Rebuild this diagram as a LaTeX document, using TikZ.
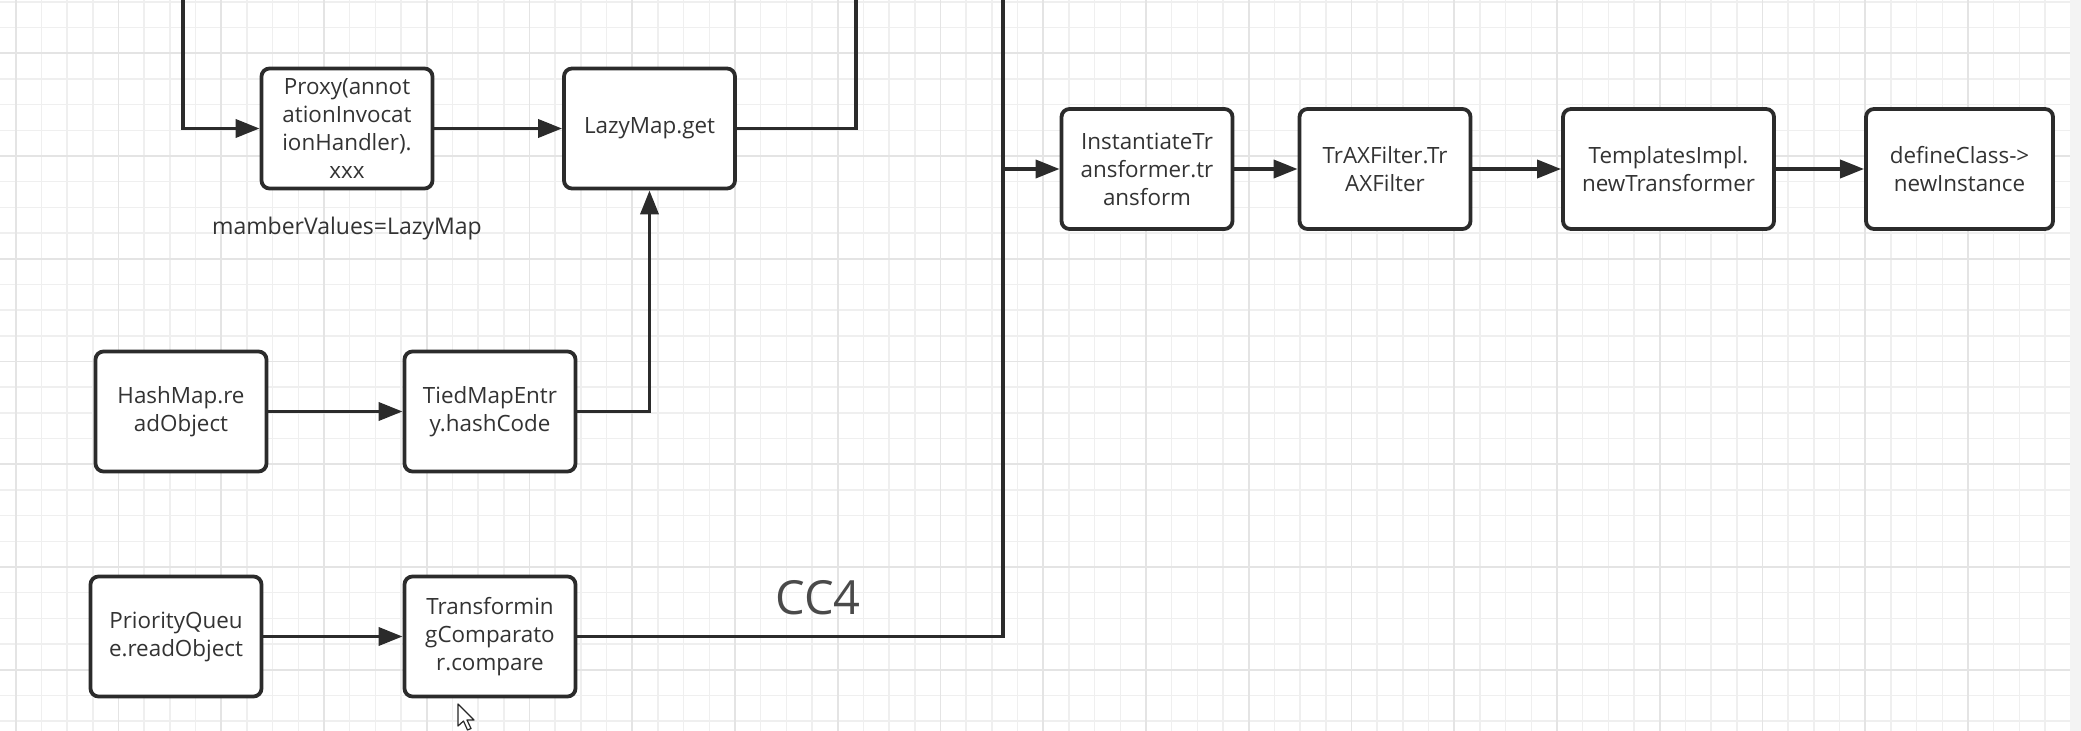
\documentclass[tikz,border=0pt]{standalone}
\usepackage{fontspec}
\setmainfont{Open Sans}
\usetikzlibrary{arrows.meta}
\definecolor{ink}{HTML}{2B2B2B}
\definecolor{txt}{HTML}{333333}
\definecolor{cctxt}{HTML}{4A4A4A}
\definecolor{gridminor}{HTML}{EFEFEF}
\definecolor{gridmajor}{HTML}{E4E4E4}
\definecolor{strip}{HTML}{F3F3F3}
\begin{document}
\begin{tikzpicture}[x=0.5pt,y=-0.5pt,
  box/.style={draw=ink, line width=1.9pt, rounded corners=4pt, fill=white,
    minimum width=85.5pt, minimum height=60pt, inner sep=0pt, align=center,
    font=\fontsize{11.2}{14}\selectfont, text=txt},
  conn/.style={draw=ink, line width=1.8pt},
  arr/.style={conn, -{Triangle[length=12pt,width=9pt]}},
  lbl/.style={inner sep=0pt, text=txt, font=\fontsize{11.5}{14}\selectfont}]
\useasboundingbox (0,0) rectangle (2081,731);
\fill[white] (0,0) rectangle (2081,731);
% grid
\foreach \n in {0,...,80}{
  \draw[gridminor, line width=0.75pt] ({15.75+25.6875*\n},0) -- ({15.75+25.6875*\n},731);}
\foreach \n in {0,...,28}{
  \draw[gridminor, line width=0.75pt] (0,{1.9+25.6875*\n}) -- (2070,{1.9+25.6875*\n});}
\foreach \n in {0,4,...,80}{
  \draw[gridmajor, line width=0.8pt] ({15.75+25.6875*\n},0) -- ({15.75+25.6875*\n},731);}
\foreach \n in {2,6,...,26}{
  \draw[gridmajor, line width=0.8pt] (0,{1.9+25.6875*\n}) -- (2070,{1.9+25.6875*\n});}
\fill[strip] (2070,0) rectangle (2081,731);

% boxes
\node[box] (proxy) at (347,128.5) {Proxy(annot\\ationInvocat\\ionHandler).\\xxx};
\node[box] (lazy) at (649.5,128.5) {LazyMap.get};
\node[box] (hash) at (181,411.5) {HashMap.re\\adObject};
\node[box] (tied) at (490,411.5) {TiedMapEntr\\y.hashCode};
\node[box] (pq) at (176,636.5) {PriorityQueu\\e.readObject};
\node[box] (tcomp) at (490,636.5) {Transformin\\gComparato\\r.compare};
\node[box] (inst) at (1147,169) {InstantiateTr\\ansformer.tr\\ansform};
\node[box] (trax) at (1385,169) {TrAXFilter.Tr\\AXFilter};
\node[box, minimum width=105.5pt] (tmpl) at (1668.5,169) {TemplatesImpl.\\newTransformer};
\node[box, minimum width=93.5pt] (defc) at (1959.5,169) {defineClass->\\newInstance};

% labels
\node[lbl] (mv) at (347,229) {mamberValues=LazyMap};
\node[inner sep=0pt, text=cctxt, font=\fontsize{23.5}{28}\selectfont] (cc4) at (818,598) {CC4};

% connectors
\coordinate (topA) at (183,0);
\coordinate (topB) at (856,0);
\coordinate (topC) at (1003,0);
\coordinate (junc) at (1003,169);
\draw[arr] (topA) |- (proxy.west);
\draw[arr] (proxy) -- (lazy);
\draw[conn] (lazy.east) -| (topB);
\draw[conn] (topC) |- (tcomp.east);
\draw[arr] (junc) -- (inst.west);
\draw[arr] (inst) -- (trax);
\draw[arr] (trax) -- (tmpl);
\draw[arr] (tmpl) -- (defc);
\draw[arr] (hash) -- (tied);
\draw[arr] (tied.east) -| (lazy.south);
\draw[arr] (pq) -- (tcomp);

% mouse cursor
\draw[black!85, fill=white, line width=0.6pt, line join=round]
  (458,704) -- (458,726) -- (463.5,721) -- (467.5,730) -- (471,728.5) -- (467,720) -- (474,720) -- cycle;
\end{tikzpicture}
\end{document}
